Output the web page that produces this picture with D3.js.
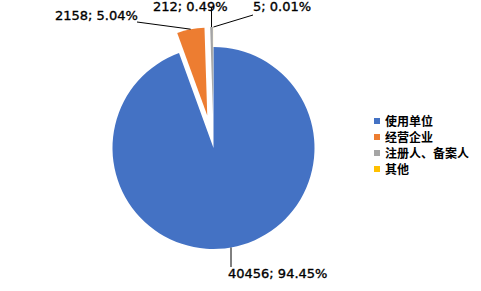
<!DOCTYPE html>
<html>
<head>
<meta charset="utf-8">
<script src="https://cdn.jsdelivr.net/npm/d3@7"></script>
<style>
  body { margin: 0; background: #fff; }
  svg { display: block; }
</style>
</head>
<body>
<svg width="481" height="291"></svg>
<script>
// data
var categories = ["使用单位", "经营企业", "注册人、备案人", "其他"];
var counts = [40456, 2158, 212, 5];
var percents = ["94.45%", "5.04%", "0.49%", "0.01%"];
var colors = ["#4472C4", "#ED7D31", "#A5A5A5", "#FFC000"];

var svg = d3.select("svg");
var cx = 213.5, cy = 148;
var bigR = 101, smallR = 88, explode = 33;

var pie = d3.pie().sort(null).value(function(d) { return d; });
var arcs = pie(counts);

// first slice full size, the others pulled out
function radiusOf(i) { return i === 0 ? bigR : smallR; }
function offsetOf(i) { return i === 0 ? 0 : explode; }
function mid(a) { return (a.startAngle + a.endAngle) / 2; }

var g = svg.append("g").attr("transform", "translate(" + cx + "," + cy + ")");

g.selectAll(".slice")
    .data(arcs)
    .enter().append("path")
    .attr("class", "slice")
    .attr("fill", function(d, i) { return colors[i]; })
    .attr("transform", function(d, i) {
        var m = mid(d), o = offsetOf(i);
        return "translate(" + (o * Math.sin(m)) + "," + (-o * Math.cos(m)) + ")";
    })
    .attr("d", function(d, i) {
        return d3.arc().innerRadius(0).outerRadius(radiusOf(i))(d);
    });

// label layout and leader end points
var labelPos = [
    { x: 228, y: 278 },
    { x: 55, y: 20 },
    { x: 153, y: 11 },
    { x: 253, y: 11 }
];
var leaderEnd = [
    function(p) { return [p[0], 267]; },
    function(p) { return [137, 22]; },
    function(p) { return [p[0], 8]; },
    function(p) { return [253, 15]; }
];

arcs.forEach(function(d, i) {
    var m = mid(d), r = radiusOf(i) + offsetOf(i);
    var p = [cx + r * Math.sin(m), cy - r * Math.cos(m)];
    var e = leaderEnd[i](p);
    svg.append("line")
        .attr("x1", p[0]).attr("y1", p[1])
        .attr("x2", e[0]).attr("y2", e[1])
        .attr("stroke", "#000")
        .attr("stroke-width", 1);
});

svg.selectAll(".lbl")
    .data(arcs)
    .enter().append("text")
    .attr("class", "lbl")
    .attr("x", function(d, i) { return labelPos[i].x; })
    .attr("y", function(d, i) { return labelPos[i].y; })
    .style("font-family", "DejaVu Sans")
    .style("font-size", "13px")
    .style("fill", "#000")
    .style("stroke", "#000")
    .style("stroke-width", "0.35px")
    .text(function(d, i) { return counts[i] + "; " + percents[i]; });

// legend
var legend = svg.append("g").attr("transform", "translate(374,121)");
var rows = legend.selectAll(".row")
    .data(categories)
    .enter().append("g")
    .attr("class", "row")
    .attr("transform", function(d, i) { return "translate(0," + (i * 16) + ")"; });

rows.append("rect")
    .attr("x", 0).attr("y", -3)
    .attr("width", 6).attr("height", 6)
    .attr("fill", function(d, i) { return colors[i]; });

rows.append("text")
    .attr("x", 11).attr("y", 4.5)
    .style("font-family", "Noto Sans CJK SC")
    .style("font-size", "12px")
    .style("font-weight", "bold")
    .style("fill", "#000")
    .text(function(d) { return d; });
</script>
</body>
</html>
